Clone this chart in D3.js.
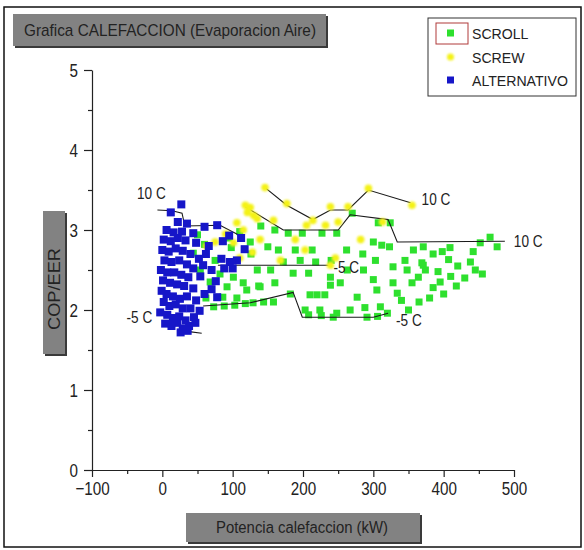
<!DOCTYPE html>
<html>
<head>
<meta charset="utf-8">
<script src="https://cdn.jsdelivr.net/npm/d3@7"></script>
<style>
    body { margin: 0; background: #fff; }
    text { font-family: "Liberation Sans Narrow", "Arial Narrow", "Liberation Sans", Arial, sans-serif; fill: #222; }
</style>
</head>
<body>
<div id="chart"></div>
<script>
// ---- data (kW, COP) ----
const xTicks = [-100, 0, 100, 200, 300, 400, 500];
const xMinor = [-50, 50, 150, 250, 350, 450];
const yTicks = [0, 1, 2, 3, 4, 5];
const yMinor = [0.5, 1.5, 2.5, 3.5, 4.5];

const seriesNames = ['SCROLL', 'SCREW', 'ALTERNATIVO'];

const scrollPts = [
    [50,2.94],[44,2.71],[54,2.5],[60,2.82],[75,2.62],[68,2.35],[92,2.29],[101,2.41],[115,2.34],[86,2.16],
    [106,2.15],[120,2.25],[137,2.3],[73,2.04],[88,2.05],[103,2.06],[118,2.08],[135,2.5],[126,2.7],[110,2.98],
    [98,2.78],[82,2.45],[62,2.15],[95,2.9],
    [125,2.85],[150,2.79],[165,2.75],[189,2.75],[213,2.75],[179,2.96],[199,2.96],[227,2.96],[248,2.96],[270,3.21],
    [307,3.09],[324,3.09],[140,3.05],[160,3.0],
    [154,2.5],[186,2.46],[208,2.46],[239,2.41],[263,2.5],[286,2.5],[303,2.62],[328,2.54],[348,2.5],[369,2.59],[374,2.5],
    [139,2.29],[160,2.34],[182,2.2],[210,2.19],[220,2.19],[231,2.19],[239,2.31],[253,2.34],[277,2.16],[300,2.38],
    [305,2.25],[328,2.34],[334,2.21],[355,2.34],[364,2.41],
    [129,2.09],[144,2.1],[158,2.1],[203,2.0],[224,2.0],[248,1.96],[267,2.0],[288,2.03],[310,2.04],[320,1.96],
    [208,1.94],[243,1.91],[291,1.91],[306,1.92],[226,1.93],
    [300,2.85],[312,2.81],[323,2.79],[357,2.75],[371,2.79],[285,2.7],[262,2.75],[240,2.62],[218,2.6],[196,2.62],
    [172,2.6],[345,2.62],
    [466,2.91],[476,2.79],[452,2.84],[442,2.73],[438,2.6],[409,2.78],[398,2.73],[407,2.63],[385,2.7],[371,2.56],
    [420,2.55],[445,2.5],[455,2.45],[430,2.4],[410,2.42],[395,2.35],[385,2.28],[400,2.2],[380,2.15],[365,2.1],
    [350,2.0],[340,2.12],[418,2.3],[392,2.48]
];

const screwPts = [
    [146,3.53],[177,3.33],[214,3.12],[239,3.29],[264,3.29],[293,3.52],[355,3.31],[125,3.28],[158,3.12],[232,3.06],
    [313,3.1],[139,2.88],[189,2.88],[203,2.75],[282,2.88],[246,2.65],[168,2.62],[118,3.31],[121,3.22],[106,3.09],
    [101,2.84],[115,3.0],[135,3.14],[75,2.85],[90,2.95],[63,2.8],[239,2.56],[130,3.18],[128,2.72],[205,3.06],
    [250,3.1],[110,2.65]
];

const altPts = [
    [12,3.22],[27,3.32],[22,3.1],[35,3.08],[6,3.0],[16,2.97],[28,2.98],[44,2.96],[60,3.04],[78,3.06],[95,2.93],
    [2,2.88],[12,2.86],[22,2.9],[33,2.87],[48,2.84],[66,2.8],[86,2.86],[112,2.9],[117,2.76],
    [0,2.75],[9,2.73],[19,2.77],[29,2.74],[40,2.7],[52,2.64],[62,2.7],[84,2.64],[96,2.6],[106,2.62],[100,2.52],
    [3,2.62],[13,2.6],[24,2.62],[35,2.57],[44,2.52],[58,2.56],[70,2.5],[88,2.52],
    [-2,2.5],[7,2.47],[17,2.47],[27,2.44],[37,2.41],[54,2.42],[76,2.36],
    [1,2.37],[11,2.34],[21,2.32],[31,2.3],[44,2.27],[70,2.26],[78,2.16],
    [-1,2.24],[6,2.2],[15,2.17],[25,2.14],[35,2.17],[48,2.12],[60,2.2],
    [2,2.1],[10,2.05],[19,2.07],[29,2.02],[40,2.02],[53,1.99],
    [-3,1.97],[7,1.94],[15,1.9],[24,1.92],[33,1.87],[45,1.91],
    [4,1.83],[13,1.8],[21,1.84],[29,1.77],[38,1.8],[47,1.84],[26,1.72],[36,1.74]
];

// temperature curves (10 C / -5 C)
const altLine10 = [[-7,3.25],[14,3.24],[28,3.21],[32,3.05],[82,3.06],[110,2.93]];
const altLineM5 = [[-3,1.97],[10,1.92],[38,1.73],[56,1.71]];
const scrollLine10 = [[118,3.29],[172,3.0],[250,3.0],[267,3.19],[321,3.13],[334,2.85],[487,2.86]];
const scrollLineM5 = [[58,2.05],[125,2.09],[186,2.22],[199,1.91],[300,1.91],[321,1.96]];
const screwLine10 = [[146,3.53],[177,3.31],[214,3.13],[239,3.25],[264,3.25],[293,3.5],[353,3.34]];
const screwLineM5 = [[79,2.56],[239,2.56]];


// squeeze text horizontally (the original uses a narrow face)
function condense(sel, factor) {
    sel.each(function () {
        let w = this.getComputedTextLength();
        d3.select(this).attr('textLength', w * factor).attr('lengthAdjust', 'spacingAndGlyphs');
    });
}

class ScatterChart
{
    width; height; margin;
    svg; chart; scaleX; scaleY;

    constructor(container, width, height, margin) {
        this.width = width;
        this.height = height;
        this.margin = margin;   // [top, bottom, left, right]

        this.svg = d3.select(container)
            .append('svg')
            .attr('width', width)
            .attr('height', height);

        let defs = this.svg.append('defs');
        defs.append('filter').attr('id', 'soft')
            .append('feGaussianBlur').attr('stdDeviation', 0.5);
        defs.append('filter').attr('id', 'glow')
            .attr('x', '-50%').attr('y', '-50%').attr('width', '200%').attr('height', '200%')
            .append('feGaussianBlur').attr('stdDeviation', 1.1);

        // outer frame
        this.svg.append('rect')
            .attr('x', 4).attr('y', 7).attr('width', 577).attr('height', 540)
            .attr('fill', '#fff').attr('stroke', '#111').attr('stroke-width', 1.5);

        this.chart = this.svg.append('g')
            .attr('transform', `translate(${margin[2]}, ${margin[0]})`);

        let chartWidth = width - margin[2] - margin[3],
            chartHeight = height - margin[0] - margin[1];
        this.scaleX = d3.scaleLinear([-100, 500], [0, chartWidth]);
        this.scaleY = d3.scaleLinear([0, 5], [chartHeight, 0]);
    }

    #grayBox(x, y, w, h) {
        let g = this.svg.append('g');
        g.append('rect').attr('x', x + 2).attr('y', y + 2).attr('width', w).attr('height', h).attr('fill', '#3a3a3a');
        g.append('rect').attr('x', x).attr('y', y).attr('width', w).attr('height', h).attr('fill', '#828282');
        return g;
    }

    drawAxes() {
        let chartHeight = this.height - this.margin[0] - this.margin[1];

        let ax = this.chart.append('g').attr('transform', `translate(0, ${chartHeight})`)
            .call(d3.axisBottom(this.scaleX).tickValues(xTicks).tickSize(7).tickSizeOuter(0).tickPadding(5));
        this.chart.append('g').attr('transform', `translate(0, ${chartHeight})`)
            .call(d3.axisBottom(this.scaleX).tickValues(xMinor).tickSize(4).tickFormat(''))
            .select('.domain').remove();

        let ay = this.chart.append('g')
            .call(d3.axisLeft(this.scaleY).tickValues(yTicks).tickFormat(d3.format('d'))
                .tickSize(8).tickSizeOuter(0).tickPadding(6));
        this.chart.append('g')
            .call(d3.axisLeft(this.scaleY).tickValues(yMinor).tickSize(4).tickFormat(''))
            .select('.domain').remove();

        this.chart.selectAll('.tick line, .domain').attr('stroke', '#222').attr('stroke-width', 1.2);
        ax.selectAll('text').style('font-size', '19px').attr('fill', '#222').call(condense, 0.8);
        ay.selectAll('text').style('font-size', '19px').attr('fill', '#222').call(condense, 0.8);
        return this;
    }

    drawLabels() {
        // title
        this.#grayBox(13, 14, 313, 32);
        this.svg.append('text').attr('x', 24).attr('y', 36)
            .attr('textLength', 292).attr('lengthAdjust', 'spacingAndGlyphs')
            .style('font-size', '17px').text('Grafica CALEFACCION (Evaporacion Aire)');

        // x label
        this.#grayBox(186, 513, 234, 29);
        this.svg.append('text').attr('x', 302).attr('y', 533)
            .attr('text-anchor', 'middle')
            .attr('textLength', 172).attr('lengthAdjust', 'spacingAndGlyphs')
            .style('font-size', '16px').text('Potencia calefaccion (kW)');

        // y label
        this.#grayBox(43, 211, 22, 143);
        this.svg.append('text')
            .attr('transform', 'translate(60, 289) rotate(-90)')
            .attr('text-anchor', 'middle')
            .attr('textLength', 82).attr('lengthAdjust', 'spacingAndGlyphs')
            .style('font-size', '16px').text('COP/EER');
        return this;
    }

    drawPoints() {
        let sx = this.scaleX, sy = this.scaleY;
        this.chart.append('g').attr('filter', 'url(#soft)')
            .selectAll('rect').data(scrollPts).join('rect')
            .attr('x', d => sx(d[0]) - 3.5).attr('y', d => sy(d[1]) - 3.5)
            .attr('width', 7).attr('height', 7).attr('fill', '#2fe02f');

        let line = d3.line(d => sx(d[0]), d => sy(d[1]));
        let curves = [altLine10, altLineM5, scrollLine10, scrollLineM5, screwLine10, screwLineM5];
        this.chart.append('g').selectAll('path').data(curves).join('path')
            .attr('d', line).attr('fill', 'none').attr('stroke', '#1a1a1a').attr('stroke-width', 1.1);

        this.chart.append('g').attr('filter', 'url(#glow)')
            .selectAll('circle').data(screwPts).join('circle')
            .attr('cx', d => sx(d[0])).attr('cy', d => sy(d[1]))
            .attr('r', 3.8).attr('fill', '#f4f214');

        this.chart.append('g').attr('filter', 'url(#soft)')
            .selectAll('rect').data(altPts).join('rect')
            .attr('x', d => sx(d[0]) - 4).attr('y', d => sy(d[1]) - 4)
            .attr('width', 8).attr('height', 8).attr('fill', '#1414c8');

        // curve labels
        let tag = (pt, dx, dy, anchor, txt) => this.chart.append('text')
            .attr('x', sx(pt[0]) + dx).attr('y', sy(pt[1]) + dy)
            .attr('text-anchor', anchor).style('font-size', '16px').text(txt)
            .call(condense, 0.85);
        tag(altLine10[0], -6, -11, 'middle', '10 C');
        tag(altLineM5[0], -8, 11, 'end', '-5 C');
        tag(scrollLine10[scrollLine10.length - 1], 9, 6, 'start', '10 C');
        tag(scrollLineM5[scrollLineM5.length - 1], 8, 13, 'start', '-5 C');
        tag(screwLine10[screwLine10.length - 1], 11, 2, 'start', '10 C');
        tag(screwLineM5[screwLineM5.length - 1], 3, 8, 'start', '-5 C');
        return this;
    }

    drawLegend() {
        let lg = this.svg.append('g');
        lg.append('rect').attr('x', 428).attr('y', 18).attr('width', 148).attr('height', 78)
            .attr('fill', '#fff').attr('stroke', '#333').attr('stroke-width', 1);
        lg.append('rect').attr('x', 436).attr('y', 23).attr('width', 32).attr('height', 21)
            .attr('fill', 'none').attr('stroke', '#b03a3a').attr('stroke-width', 1);

        let rows = [
            { name: seriesNames[0], y: 33 },
            { name: seriesNames[1], y: 57 },
            { name: seriesNames[2], y: 80 }
        ];
        lg.append('rect').attr('x', 447).attr('y', rows[0].y - 3.5).attr('width', 7).attr('height', 7)
            .attr('fill', '#2fe02f').attr('filter', 'url(#soft)');
        lg.append('circle').attr('cx', 450.5).attr('cy', rows[1].y).attr('r', 3.5)
            .attr('fill', '#f4f214').attr('filter', 'url(#glow)');
        lg.append('rect').attr('x', 447).attr('y', rows[2].y - 3.5).attr('width', 7).attr('height', 7)
            .attr('fill', '#1414c8').attr('filter', 'url(#soft)');

        lg.selectAll('text.lg').data(rows).join('text')
            .attr('x', 472).attr('y', d => d.y + 6)
            .style('font-size', '15px').text(d => d.name)
            .call(condense, 0.94);
        return this;
    }
}

new ScatterChart('#chart', 584, 550, [70, 80, 92, 70])
    .drawAxes()
    .drawPoints()
    .drawLegend()
    .drawLabels();
</script>
</body>
</html>
